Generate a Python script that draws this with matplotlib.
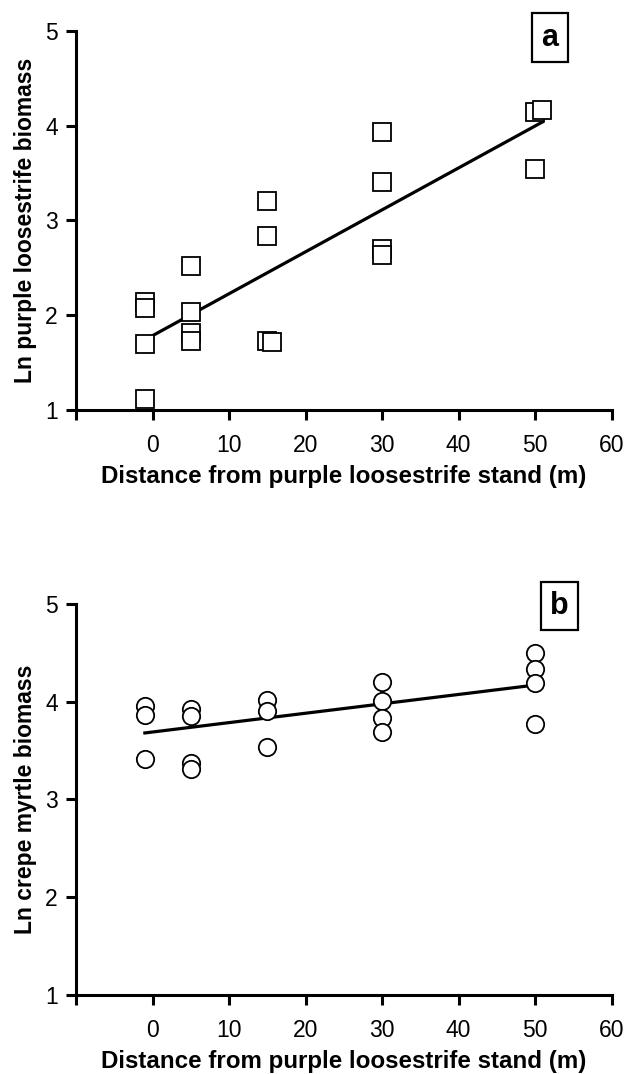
import numpy as np
import matplotlib
matplotlib.use("Agg")
import matplotlib.pyplot as plt

plt.rcParams['font.family'] = ['Liberation Sans', 'DejaVu Sans']

# panel a : purple loosestrife (Ln biomass) vs distance
dist_a = [-1, -1, -1, -1, 5, 5, 5, 5, 15, 15, 15, 15.6, 30, 30, 30, 30, 50, 50.9, 50]
lnbio_a = [2.14, 2.08, 1.70, 1.12, 2.52, 2.03, 1.81, 1.73, 3.20, 2.84, 1.73, 1.72,
           3.93, 3.40, 2.70, 2.64, 4.14, 4.16, 3.54]
fit_a_x = [-1, 51]
fit_a_y = [1.74, 4.04]

# panel b : crepe myrtle (Ln biomass) vs distance
dist_b = [-1, -1, -1, 5, 5, 5, 5, 15, 15, 15, 30, 30, 30, 30, 50, 50, 50, 50]
lnbio_b = [3.96, 3.86, 3.41, 3.92, 3.85, 3.37, 3.31, 4.02, 3.90, 3.54,
           4.20, 4.01, 3.83, 3.69, 4.50, 4.33, 4.19, 3.77]
fit_b_x = [-1, 50]
fit_b_y = [3.68, 4.17]

xticks = [-10, 0, 10, 20, 30, 40, 50, 60]
xticklabels = ['', '0', '10', '20', '30', '40', '50', '60']
yticks = [1, 2, 3, 4, 5]
xlabel = 'Distance from purple loosestrife stand (m)'

fig = plt.figure(figsize=(6.27, 10.74), dpi=100)
ax_a = fig.add_axes([0.1212, 0.6182, 0.8544, 0.3532])
ax_b = fig.add_axes([0.1212, 0.0736, 0.8544, 0.3641])


def style(ax, ylabel, tag, tag_xy):
    ax.set_xlim(-10, 60)
    ax.set_ylim(1, 5)
    ax.set_xticks(xticks)
    ax.set_xticklabels(xticklabels)
    ax.set_yticks(yticks)
    for s in ['top', 'right']:
        ax.spines[s].set_visible(False)
    for s in ['left', 'bottom']:
        ax.spines[s].set_linewidth(2.2)
    ax.tick_params(width=2.2, length=7, labelsize=16.5)
    ax.tick_params(axis='x', pad=10)
    ax.tick_params(axis='y', pad=6)
    ax.set_xlabel(xlabel, fontsize=17.4, fontweight='bold', labelpad=6)
    ax.set_ylabel(ylabel, fontsize=16.5, fontweight='bold', labelpad=6)
    ax.text(tag_xy[0], tag_xy[1], tag, transform=ax.transAxes, fontsize=22,
            fontweight='bold', ha='center', va='center',
            bbox=dict(boxstyle='square,pad=0.3', fc='white', ec='black', lw=1.6))


ax_a.plot(fit_a_x, fit_a_y, color='black', lw=2.3, zorder=2)
ax_a.plot(dist_a, lnbio_a, ls='none', marker='s', ms=13.5, mfc='white', mec='black',
          mew=1.3, zorder=3, clip_on=False)
style(ax_a, 'Ln purple loosestrife biomass', 'a', (0.885, 0.982))

ax_b.plot(fit_b_x, fit_b_y, color='black', lw=2.3, zorder=2)
ax_b.plot(dist_b, lnbio_b, ls='none', marker='o', ms=12.5, mfc='white', mec='black',
          mew=1.3, zorder=3, clip_on=False)
style(ax_b, 'Ln crepe myrtle biomass', 'b', (0.902, 0.995))

fig.savefig('out.png', dpi=100)
